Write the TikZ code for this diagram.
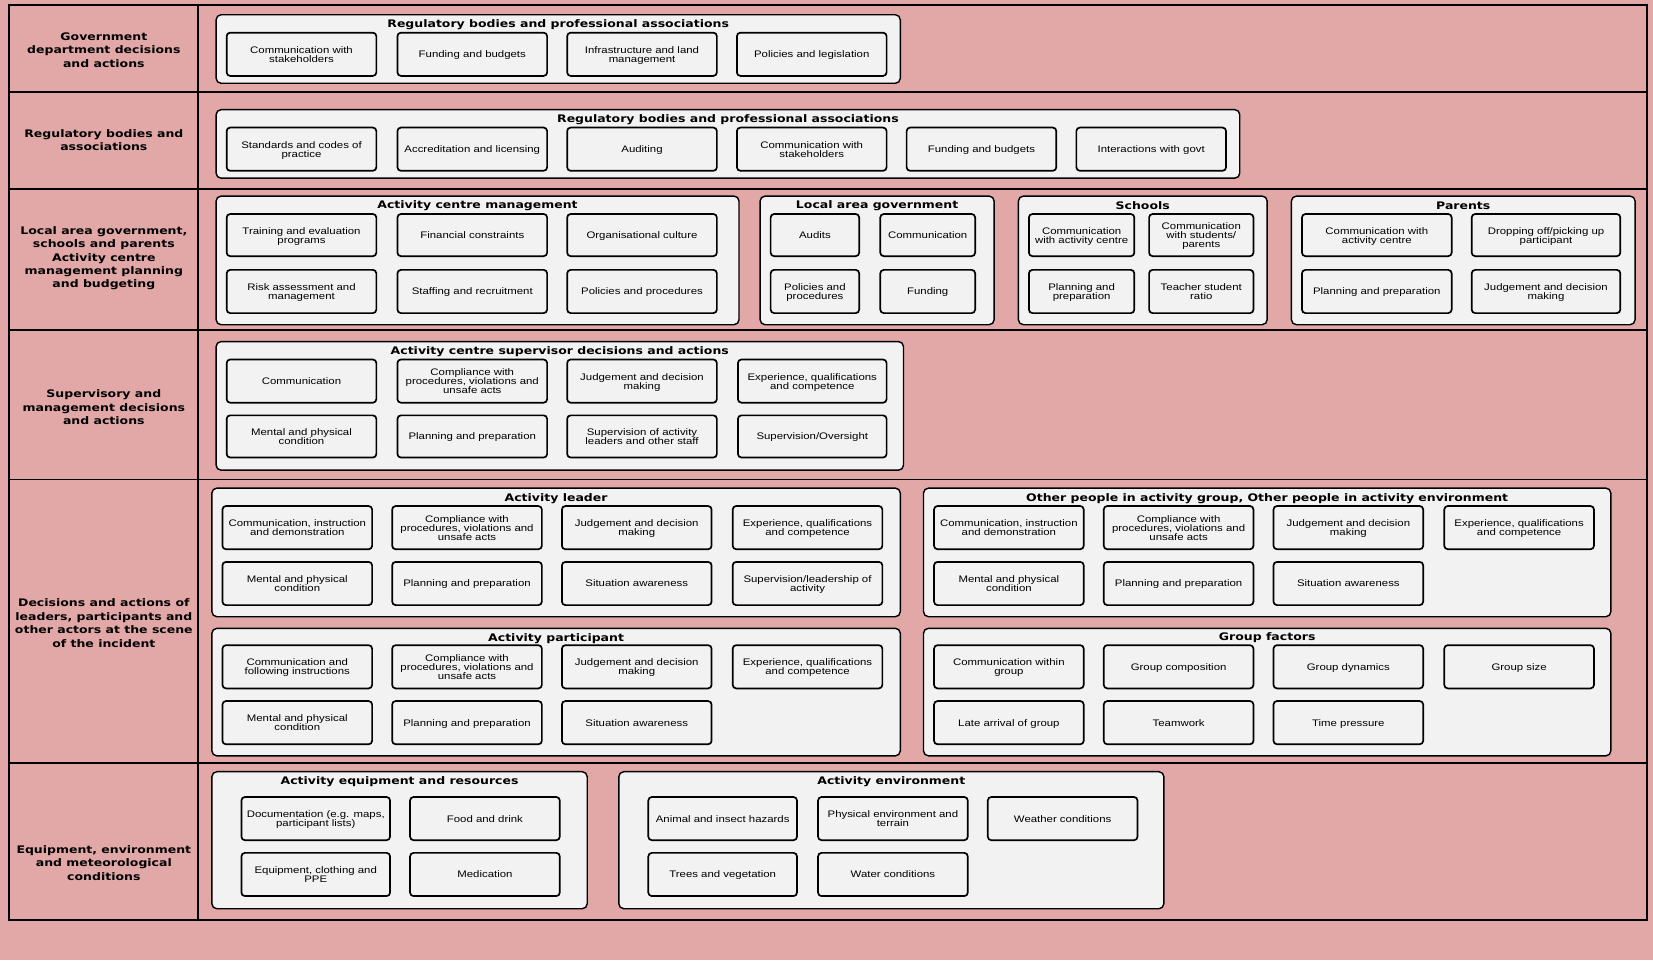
\documentclass[tikz,border=0pt]{standalone}
\usepackage{fontspec}
\newfontfamily\boxf[FakeStretch=1.2]{Liberation Sans}
\newfontfamily\headf[FakeStretch=1.2]{DejaVu Sans}
\definecolor{bgpink}{RGB}{225,168,167}
\definecolor{boxgray}{RGB}{242,242,242}
\tikzset{
  ibox/.style={draw, line width=1.7pt, rounded corners=3.5pt, fill=boxgray, align=center,
    font=\boxf\fontsize{9.5}{9}\selectfont, inner sep=1pt, text depth=0pt},
  obox/.style={draw, line width=1.4pt, rounded corners=5pt, fill=boxgray, inner sep=0pt},
  head/.style={font=\headf\bfseries\fontsize{10.4}{12}\selectfont, inner sep=0pt},
  side/.style={font=\headf\bfseries\fontsize{10.4}{13.4}\selectfont, align=center, inner sep=0pt},
  frame/.style={line width=2pt},
  rowline/.style={line width=1.6pt}
}
\newcommand\ib[6]{\node[ibox, minimum width={(#4-#2)*1.0542pt}, minimum height={(#5-#3)*1.0542pt}] (#1) at ({(#2+#4)/2},{(#3+#5)/2}) {#6};}
\newcommand\ob[6]{\node[obox, minimum width={(#4-#2)*1.0542pt}, minimum height={(#5-#3)*1.0542pt}] (#1) at ({(#2+#4)/2},{(#3+#5)/2}) {};
\coordinate (#1h) at ({(#2+#4)/2},{#6+1.5});}
\begin{document}
\begin{tikzpicture}[x=1.0542pt,y=-1.0542pt]
\useasboundingbox (0,0) rectangle (1568,911);
\fill[bgpink] (0,0) rectangle (1568,911);
% table frame
\coordinate (tl) at (9,5);
\coordinate (br) at (1562,873);
\draw[frame] (tl) rectangle (br);
\coordinate (d1) at (188,5);
\coordinate (d2) at (188,873);
\draw[frame] (d1) -- (d2);
\foreach \yy [count=\i] in {87,179,313,455,724}{
  \coordinate (ra\i) at (9,\yy);
  \coordinate (rb\i) at (1562,\yy);
  \draw[rowline] (ra\i) -- (rb\i);
}
% side labels
\node[side] (s1) at (98.5,47.5) {Government\\department decisions\\and actions};
\node[side] (s2) at (98.5,133) {Regulatory bodies and\\associations};
\node[side] (s3) at (98.5,245) {Local area government,\\schools and parents\\Activity centre\\management planning\\and budgeting};
\node[side] (s4) at (98.5,386.5) {Supervisory and\\management decisions\\and actions};
\node[side] (s5) at (98.5,591) {Decisions and actions of\\leaders, participants and\\other actors at the scene\\of the incident};
\node[side] (s6) at (98.5,818.5) {Equipment, environment\\and meteorological\\conditions};

% ---------- Row 1
\ob{g1}{205}{14}{854}{79}{21.5}
\node[head] (g1t) at (g1h) {Regulatory bodies and professional associations};
\ib{g1a}{215}{31}{357}{72}{Communication with\\stakeholders}
\ib{g1b}{377}{31}{519}{72}{Funding and budgets}
\ib{g1c}{538}{31}{680}{72}{Infrastructure and land\\management}
\ib{g1d}{699}{31}{841}{72}{Policies and legislation}

% ---------- Row 2
\ob{g2}{205}{104}{1176}{169}{112}
\node[head] (g2t) at (g2h) {Regulatory bodies and professional associations};
\ib{g2a}{215}{121}{357}{162}{Standards and codes of\\practice}
\ib{g2b}{377}{121}{519}{162}{Accreditation and licensing}
\ib{g2c}{538}{121}{680}{162}{Auditing}
\ib{g2d}{699}{121}{841}{162}{Communication with\\stakeholders}
\ib{g2e}{860}{121}{1002}{162}{Funding and budgets}
\ib{g2f}{1021}{121}{1163}{162}{Interactions with govt}

% ---------- Row 3
\ob{acm}{205}{186}{701}{308}{194}
\node[head] (acmt) at (acmh) {Activity centre management};
\ib{acma}{215}{203}{357}{243}{Training and evaluation\\programs}
\ib{acmb}{377}{203}{519}{243}{Financial constraints}
\ib{acmc}{538}{203}{680}{243}{Organisational culture}
\ib{acmd}{215}{256}{357}{297}{Risk assessment and\\management}
\ib{acme}{377}{256}{519}{297}{Staffing and recruitment}
\ib{acmf}{538}{256}{680}{297}{Policies and procedures}

\ob{lag}{721}{186}{943}{308}{194}
\node[head] (lagt) at (lagh) {Local area government};
\ib{laga}{731}{203}{815}{243}{Audits}
\ib{lagb}{835}{203}{925}{243}{Communication}
\ib{lagc}{731}{256}{815}{297}{Policies and\\procedures}
\ib{lagd}{835}{256}{925}{297}{Funding}

\ob{sch}{966}{186}{1202}{308}{194}
\node[head] (scht) at (schh) {Schools};
\ib{scha}{976}{203}{1076}{243}{Communication\\with activity centre}
\ib{schb}{1090}{203}{1189}{243}{Communication\\with students/\\parents}
\ib{schc}{976}{256}{1076}{297}{Planning and\\preparation}
\ib{schd}{1090}{256}{1189}{297}{Teacher student\\ratio}

\ob{par}{1225}{186}{1551}{308}{194}
\node[head] (part) at (parh) {Parents};
\ib{para}{1235}{203}{1377}{243}{Communication with\\activity centre}
\ib{parb}{1396}{203}{1537}{243}{Dropping off/picking up\\participant}
\ib{parc}{1235}{256}{1377}{297}{Planning and preparation}
\ib{pard}{1396}{256}{1537}{297}{Judgement and decision\\making}

% ---------- Row 4
\ob{sup}{205}{324}{857}{446}{332}
\node[head] (supt) at (suph) {Activity centre supervisor decisions and actions};
\ib{supa}{215}{341}{357}{382}{Communication}
\ib{supb}{377}{341}{519}{382}{Compliance with\\procedures, violations and\\unsafe acts}
\ib{supc}{538}{341}{680}{382}{Judgement and decision\\making}
\ib{supd}{700}{341}{841}{382}{Experience, qualifications\\and competence}
\ib{supe}{215}{394}{357}{434}{Mental and physical\\condition}
\ib{supf}{377}{394}{519}{434}{Planning and preparation}
\ib{supg}{538}{394}{680}{434}{Supervision of activity\\leaders and other staff}
\ib{supi}{700}{394}{841}{434}{Supervision/Oversight}

% ---------- Row 5
\ob{ldr}{201}{463}{854}{585}{471.5}
\node[head] (ldrt) at (ldrh) {Activity leader};
\ib{ldra}{211}{480}{353}{521}{Communication, instruction\\and demonstration}
\ib{ldrb}{372}{480}{514}{521}{Compliance with\\procedures, violations and\\unsafe acts}
\ib{ldrc}{533}{480}{675}{521}{Judgement and decision\\making}
\ib{ldrd}{695}{480}{837}{521}{Experience, qualifications\\and competence}
\ib{ldre}{211}{533}{353}{574}{Mental and physical\\condition}
\ib{ldrf}{372}{533}{514}{574}{Planning and preparation}
\ib{ldrg}{533}{533}{675}{574}{Situation awareness}
\ib{ldri}{695}{533}{837}{574}{Supervision/leadership of\\activity}

\ob{ptc}{201}{596}{854}{717}{604}
\node[head] (ptct) at (ptch) {Activity participant};
\ib{ptca}{211}{612}{353}{653}{Communication and\\following instructions}
\ib{ptcb}{372}{612}{514}{653}{Compliance with\\procedures, violations and\\unsafe acts}
\ib{ptcc}{533}{612}{675}{653}{Judgement and decision\\making}
\ib{ptcd}{695}{612}{837}{653}{Experience, qualifications\\and competence}
\ib{ptce}{211}{665}{353}{706}{Mental and physical\\condition}
\ib{ptcf}{372}{665}{514}{706}{Planning and preparation}
\ib{ptcg}{533}{665}{675}{706}{Situation awareness}

\ob{oth}{876}{463}{1528}{585}{471.5}
\node[head] (otht) at (othh) {Other people in activity group, Other people in activity environment};
\ib{otha}{886}{480}{1028}{521}{Communication, instruction\\and demonstration}
\ib{othb}{1047}{480}{1189}{521}{Compliance with\\procedures, violations and\\unsafe acts}
\ib{othc}{1208}{480}{1350}{521}{Judgement and decision\\making}
\ib{othd}{1370}{480}{1512}{521}{Experience, qualifications\\and competence}
\ib{othe}{886}{533}{1028}{574}{Mental and physical\\condition}
\ib{othf}{1047}{533}{1189}{574}{Planning and preparation}
\ib{othg}{1208}{533}{1350}{574}{Situation awareness}

\ob{grp}{876}{596}{1528}{717}{603}
\node[head] (grpt) at (grph) {Group factors};
\ib{grpa}{886}{612}{1028}{653}{Communication within\\group}
\ib{grpb}{1047}{612}{1189}{653}{Group composition}
\ib{grpc}{1208}{612}{1350}{653}{Group dynamics}
\ib{grpd}{1370}{612}{1512}{653}{Group size}
\ib{grpe}{886}{665}{1028}{706}{Late arrival of group}
\ib{grpf}{1047}{665}{1189}{706}{Teamwork}
\ib{grpg}{1208}{665}{1350}{706}{Time pressure}

% ---------- Row 6
\ob{aer}{201}{732}{557}{862}{740}
\node[head] (aert) at (aerh) {Activity equipment and resources};
\ib{aera}{229}{756}{370}{797}{Documentation (e.g. maps,\\participant lists)}
\ib{aerb}{389}{756}{531}{797}{Food and drink}
\ib{aerc}{229}{809}{370}{850}{Equipment, clothing and\\PPE}
\ib{aerd}{389}{809}{531}{850}{Medication}

\ob{env}{587}{732}{1104}{862}{740}
\node[head] (envt) at (envh) {Activity environment};
\ib{enva}{615}{756}{756}{797}{Animal and insect hazards}
\ib{envb}{776}{756}{918}{797}{Physical environment and\\terrain}
\ib{envc}{937}{756}{1079}{797}{Weather conditions}
\ib{envd}{615}{809}{756}{850}{Trees and vegetation}
\ib{enve}{776}{809}{918}{850}{Water conditions}
\end{tikzpicture}
\end{document}
